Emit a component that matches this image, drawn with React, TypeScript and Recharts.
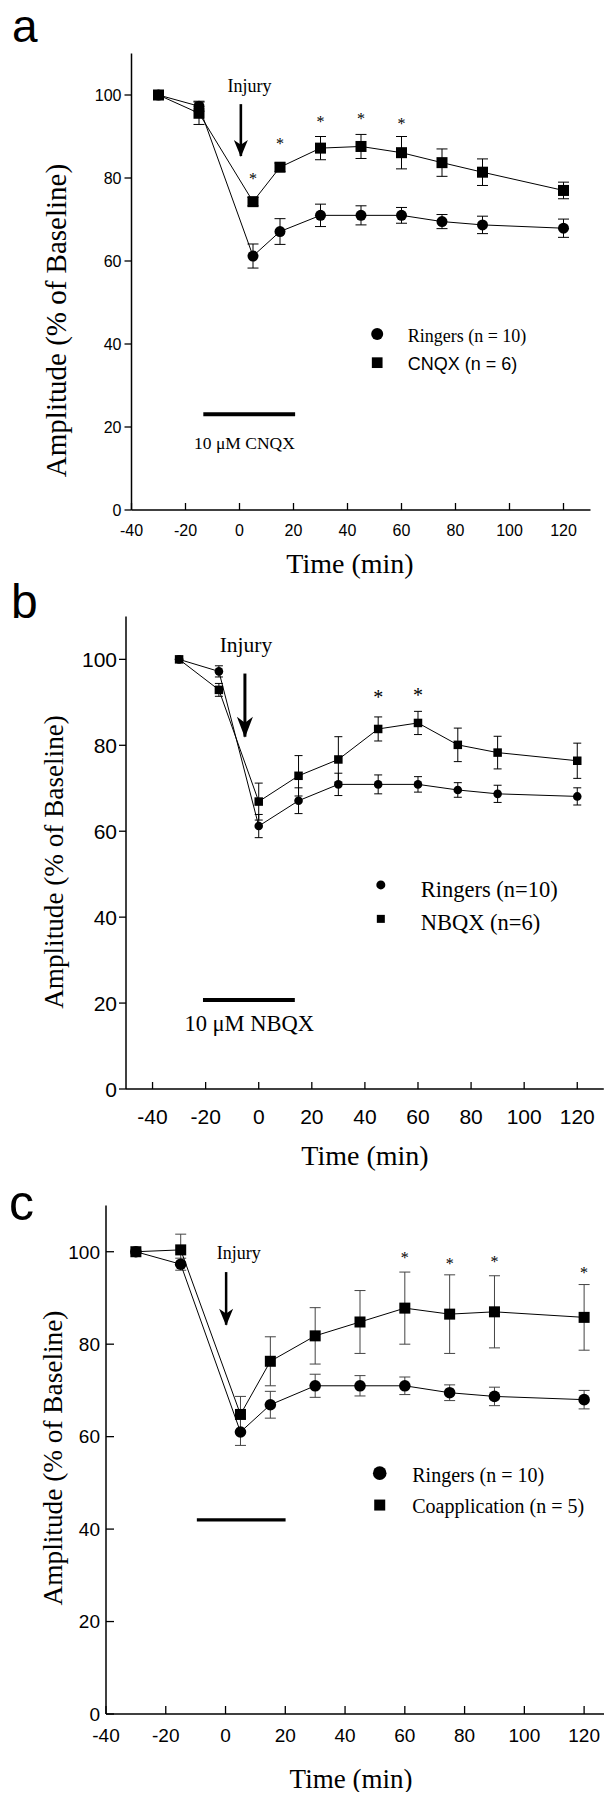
import React from 'react';
import { ComposedChart, Line, XAxis, YAxis, ErrorBar, ReferenceLine, ReferenceDot } from 'recharts';

const SERIF = "'Liberation Serif', 'Times New Roman', serif";
const SANS = "'Liberation Sans', Arial, Helvetica, sans-serif";

// ---------- Panel a ----------
const timeA = [-30, -15, 5, 15, 30, 45, 60, 75, 90, 120];
const ringersA = [100, 97.3, 61.2, 67.1, 71.0, 71.0, 71.0, 69.5, 68.7, 67.9];
const ringersErrA = [0.5, 1.2, 2.9, 3.1, 2.7, 2.3, 1.9, 1.7, 2.1, 2.2];
const cnqxA = [100, 95.6, 74.3, 82.6, 87.2, 87.6, 86.1, 83.7, 81.4, 77.0];
const cnqxErrA = [0.5, 2.7, 1.0, 1.0, 2.8, 2.9, 3.9, 3.3, 3.2, 2.0];
const starXA = [5, 15, 30, 45, 60];
const starYA = [80.3, 88.7, 94.2, 94.9, 93.6];

// ---------- Panel b ----------
const timeB = [-30, -15, 0, 15, 30, 45, 60, 75, 90, 120];
const ringersB = [100, 97.2, 61.2, 67.1, 70.9, 70.9, 70.9, 69.6, 68.7, 68.1];
const ringersErrB = [0, 1.3, 2.7, 3.0, 2.6, 2.2, 1.8, 1.7, 2.0, 2.0];
const nbqxB = [100, 92.9, 66.9, 72.9, 76.7, 83.8, 85.2, 80.1, 78.3, 76.4];
const nbqxErrB = [0, 1.5, 4.3, 4.7, 5.3, 2.8, 2.7, 3.9, 3.8, 4.1];
const starXB = [45, 60];
const starYB = [91.8, 92.3];

// ---------- Panel c ----------
const timeC = [-30, -15, 5, 15, 30, 45, 60, 75, 90, 120];
const ringersC = [100, 97.3, 61.0, 66.9, 71.0, 71.0, 71.0, 69.5, 68.7, 68.0];
const ringersErrC = [0, 1.3, 2.9, 2.9, 2.5, 2.2, 1.9, 1.7, 2.0, 2.0];
const coappC = [100, 100.4, 64.8, 76.3, 81.8, 84.8, 87.8, 86.5, 87.0, 85.8];
const coappErrC = [0, 3.4, 3.9, 5.3, 6.1, 6.8, 7.8, 8.5, 7.8, 7.1];
const starXC = [60, 75, 90, 120];
const starYC = [99.2, 97.9, 98.4, 96.0];

const yTicks = [0, 20, 40, 60, 80, 100];
const xTicks = [-40, -20, 0, 20, 40, 60, 80, 100, 120];

const toPts = (xs: number[], ys: number[], es: number[]) =>
  xs.map((x, i) => ({ x, y: ys[i], e: es[i] }));

type Marker = 'circle' | 'square';

interface SeriesCfg {
  data: { x: number; y: number; e: number }[];
  marker: Marker;
  size: number;
  capW: number;
  errColor: string;
}

interface LegendItem {
  marker: Marker;
  size: number;
  y: number;
  textY: number;
  label: string;
  font: string;
}

interface PanelCfg {
  top: number;
  width: number;
  height: number;
  margin: { top: number; right: number; bottom: number; left: number };
  xDomain: [number, number];
  tickFs: number;
  yTickOut: boolean;
  yTickLen: number;
  yLabelGap: number;
  xTickLen: number;
  xLabelDy: number;
  series: SeriesCfg[];
  injury: { x: number; y: number; fs: number };
  arrow: { x: number; top: number; tip: number; headLen: number; headW: number; shaft: number };
  bar: { x1: number; x2: number; y: number; thick: number };
  barLabel?: { text: string; x: number; y: number; fs: number };
  stars: { x: number; y: number }[];
  starFs: number;
  legendX: number;
  legendTextX: number;
  legendFs: number;
  legend: LegendItem[];
}

const drawMarker = (marker: Marker, cx: number, cy: number, size: number, key?: string) =>
  marker === 'circle' ? (
    <circle key={key} cx={cx} cy={cy} r={size} fill="#000" />
  ) : (
    <rect key={key} x={cx - size / 2} y={cy - size / 2} width={size} height={size} fill="#000" />
  );

function Panel({ cfg }: { cfg: PanelCfg }) {
  const xTick = (props: any) => {
    const { x, y, payload } = props;
    return (
      <g>
        <line x1={x} x2={x} y1={y} y2={y - cfg.xTickLen} stroke="#000" strokeWidth={1.3} />
        <text x={x} y={y + cfg.xLabelDy} textAnchor="middle" fontSize={cfg.tickFs} fontFamily={SANS} fill="#000">
          {payload.value}
        </text>
      </g>
    );
  };
  const yTick = (props: any) => {
    const { x, y, payload } = props;
    const x2 = cfg.yTickOut ? x - cfg.yTickLen : x + cfg.yTickLen;
    return (
      <g>
        <line x1={x} x2={x2} y1={y} y2={y} stroke="#000" strokeWidth={1.3} />
        <text
          x={x - cfg.yLabelGap}
          y={y + cfg.tickFs * 0.36}
          textAnchor="end"
          fontSize={cfg.tickFs}
          fontFamily={SANS}
          fill="#000"
        >
          {payload.value}
        </text>
      </g>
    );
  };

  const a = cfg.arrow;
  return (
    <div style={{ position: 'absolute', left: 0, top: cfg.top }}>
      <ComposedChart width={cfg.width} height={cfg.height} margin={cfg.margin}>
        <XAxis
          type="number"
          dataKey="x"
          domain={cfg.xDomain}
          ticks={xTicks}
          interval={0}
          allowDataOverflow
          tickLine={false}
          tickSize={0}
          tickMargin={0}
          height={30}
          axisLine={{ stroke: '#000', strokeWidth: 1.5 }}
          tick={xTick}
        />
        <YAxis
          type="number"
          domain={[0, 110]}
          ticks={yTicks}
          interval={0}
          allowDataOverflow
          tickLine={false}
          tickSize={0}
          tickMargin={0}
          width={60}
          axisLine={{ stroke: '#000', strokeWidth: 1.5 }}
          tick={yTick}
        />
        <ReferenceLine
          segment={[{ x: cfg.bar.x1, y: cfg.bar.y }, { x: cfg.bar.x2, y: cfg.bar.y }]}
          stroke="#000"
          strokeWidth={cfg.bar.thick}
        />
        <ReferenceLine
          segment={[{ x: a.x, y: a.top }, { x: a.x, y: a.tip }]}
          stroke="#000"
          strokeWidth={a.shaft}
        />
        <ReferenceDot
          x={a.x}
          y={a.tip}
          r={1}
          shape={(p: any) => (
            <polygon
              points={`${p.cx - a.headW / 2},${p.cy - a.headLen} ${p.cx},${p.cy - a.headLen * 0.7} ${p.cx + a.headW / 2},${p.cy - a.headLen} ${p.cx},${p.cy + 1}`}
              fill="#000"
            />
          )}
        />
        <ReferenceDot
          x={cfg.injury.x}
          y={cfg.injury.y}
          r={1}
          shape={(p: any) => (
            <text x={p.cx} y={p.cy} textAnchor="middle" fontSize={cfg.injury.fs} fontFamily={SERIF} fill="#000">
              Injury
            </text>
          )}
        />
        {cfg.barLabel && (
          <ReferenceDot
            x={cfg.barLabel.x}
            y={cfg.barLabel.y}
            r={1}
            shape={(p: any) => (
              <text x={p.cx} y={p.cy} textAnchor="middle" fontSize={cfg.barLabel!.fs} fontFamily={SERIF} fill="#000">
                {cfg.barLabel!.text}
              </text>
            )}
          />
        )}
        {cfg.stars.map((s, i) => (
          <ReferenceDot
            key={`star${i}`}
            x={s.x}
            y={s.y}
            r={1}
            shape={(p: any) => (
              <text
                x={p.cx}
                y={p.cy + cfg.starFs * 0.47}
                textAnchor="middle"
                fontSize={cfg.starFs}
                fontFamily={SERIF}
                fill="#000"
              >
                *
              </text>
            )}
          />
        ))}
        {cfg.legend.map((l, i) => (
          <ReferenceDot
            key={`lm${i}`}
            x={cfg.legendX}
            y={l.y}
            r={1}
            shape={(p: any) => drawMarker(l.marker, p.cx, p.cy, l.size)}
          />
        ))}
        {cfg.legend.map((l, i) => (
          <ReferenceDot
            key={`lt${i}`}
            x={cfg.legendTextX}
            y={l.textY}
            r={1}
            shape={(p: any) => (
              <text x={p.cx} y={p.cy} fontSize={cfg.legendFs} fontFamily={l.font} fill="#000">
                {l.label}
              </text>
            )}
          />
        ))}
        {cfg.series.map((s, si) => (
          <Line
            key={`s${si}`}
            data={s.data}
            dataKey="y"
            type="linear"
            stroke="#000"
            strokeWidth={1}
            isAnimationActive={false}
            activeDot={false}
            legendType="none"
            dot={(p: any) =>
              p.cx == null ? <g key={`d${si}-${p.index}`} /> : drawMarker(s.marker, p.cx, p.cy, s.size, `d${si}-${p.index}`)
            }
          >
            <ErrorBar dataKey="e" width={s.capW} stroke={s.errColor} strokeWidth={1} direction="y" isAnimationActive={false} />
          </Line>
        ))}
      </ComposedChart>
    </div>
  );
}

const panelA: PanelCfg = {
  top: 0,
  width: 612,
  height: 590,
  margin: { top: 53.5, right: 21.5, bottom: 50, left: 71.5 },
  xDomain: [-40, 130],
  tickFs: 16,
  yTickOut: true,
  yTickLen: 7,
  yLabelGap: 10,
  xTickLen: 7,
  xLabelDy: 26,
  series: [
    { data: toPts(timeA, ringersA, ringersErrA), marker: 'circle', size: 5.5, capW: 5.5, errColor: '#000' },
    { data: toPts(timeA, cnqxA, cnqxErrA), marker: 'square', size: 11, capW: 5.5, errColor: '#000' },
  ],
  injury: { x: 3.7, y: 100.8, fs: 18 },
  arrow: { x: 0.5, top: 97.8, tip: 85.3, headLen: 16, headW: 14, shaft: 2.6 },
  bar: { x1: -13.4, x2: 20.6, y: 23.05, thick: 4 },
  barLabel: { text: '10 \u03bcM CNQX', x: 1.85, y: 14.6, fs: 17.5 },
  stars: starXA.map((x, i) => ({ x, y: starYA[i] })),
  starFs: 16,
  legendX: 51,
  legendTextX: 62.3,
  legendFs: 18,
  legend: [
    { marker: 'circle', size: 6, y: 42.4, textY: 40.4, label: 'Ringers (n = 10)', font: SERIF },
    { marker: 'square', size: 10.7, y: 35.5, textY: 33.7, label: 'CNQX (n = 6)', font: SANS },
  ],
};

const panelB: PanelCfg = {
  top: 590,
  width: 612,
  height: 600,
  margin: { top: 26.4, right: 8.2, bottom: 71, left: 66 },
  xDomain: [-50, 130],
  tickFs: 21,
  yTickOut: true,
  yTickLen: 7,
  yLabelGap: 9,
  xTickLen: 7,
  xLabelDy: 35,
  series: [
    { data: toPts(timeB, ringersB, ringersErrB), marker: 'circle', size: 4.3, capW: 4, errColor: '#000' },
    { data: toPts(timeB, nbqxB, nbqxErrB), marker: 'square', size: 8.5, capW: 4, errColor: '#000' },
  ],
  injury: { x: -4.8, y: 101.8, fs: 21.5 },
  arrow: { x: -5.2, top: 96.7, tip: 82, headLen: 20, headW: 16, shaft: 3 },
  bar: { x1: -21, x2: 13.6, y: 20.7, thick: 4 },
  barLabel: { text: '10 \u03bcM NBQX', x: -3.6, y: 13.6, fs: 22.5 },
  stars: starXB.map((x, i) => ({ x, y: starYB[i] })),
  starFs: 20,
  legendX: 46,
  legendTextX: 61,
  legendFs: 22.5,
  legend: [
    { marker: 'circle', size: 4.5, y: 47.5, textY: 44.6, label: 'Ringers (n=10)', font: SERIF },
    { marker: 'square', size: 8, y: 39.6, textY: 37.1, label: 'NBQX (n=6)', font: SERIF },
  ],
};

const panelC: PanelCfg = {
  top: 1190,
  width: 620,
  height: 610,
  margin: { top: 15.5, right: 6, bottom: 56, left: 46 },
  xDomain: [-40, 130],
  tickFs: 19,
  yTickOut: false,
  yTickLen: 8,
  yLabelGap: 6,
  xTickLen: 8,
  xLabelDy: 28,
  series: [
    { data: toPts(timeC, ringersC, ringersErrC), marker: 'circle', size: 5.8, capW: 5.5, errColor: '#444' },
    { data: toPts(timeC, coappC, coappErrC), marker: 'square', size: 11, capW: 5.5, errColor: '#444' },
  ],
  injury: { x: 4.4, y: 98.4, fs: 18 },
  arrow: { x: 0.2, top: 95.6, tip: 84.2, headLen: 16, headW: 14, shaft: 2.5 },
  bar: { x1: -9.6, x2: 20.1, y: 42, thick: 3.4 },
  stars: starXC.map((x, i) => ({ x, y: starYC[i] })),
  starFs: 16,
  legendX: 51.6,
  legendTextX: 62.5,
  legendFs: 20,
  legend: [
    { marker: 'circle', size: 6.8, y: 52.1, textY: 50.2, label: 'Ringers (n = 10)', font: SERIF },
    { marker: 'square', size: 11, y: 45.2, textY: 43.4, label: 'Coapplication (n = 5)', font: SERIF },
  ],
};

const YTITLE = 'Amplitude (% of Baseline)';
const XTITLE = 'Time (min)';

export default function App() {
  return (
    <div
      style={{
        position: 'relative',
        width: 612,
        height: 1800,
        margin: -8,
        overflow: 'hidden',
        background: '#fff',
      }}
    >
      <Panel cfg={panelA} />
      <Panel cfg={panelB} />
      <Panel cfg={panelC} />
      <svg
        width={612}
        height={1800}
        style={{ position: 'absolute', left: 0, top: 0, pointerEvents: 'none' }}
      >
        <text x={12} y={42} fontSize={46} fontFamily={SANS} fill="#000">a</text>
        <text x={11} y={618} fontSize={48} fontFamily={SANS} fill="#000">b</text>
        <text x={9} y={1220} fontSize={50} fontFamily={SANS} fill="#000">c</text>

        <text x={350} y={573} textAnchor="middle" fontSize={28} fontFamily={SERIF} fill="#000">{XTITLE}</text>
        <text x={365} y={1165} textAnchor="middle" fontSize={28} fontFamily={SERIF} fill="#000">{XTITLE}</text>
        <text x={351} y={1788} textAnchor="middle" fontSize={27} fontFamily={SERIF} fill="#000">{XTITLE}</text>

        <text transform="translate(66,320.5) rotate(-90)" textAnchor="middle" fontSize={29} fontFamily={SERIF} fill="#000">{YTITLE}</text>
        <text transform="translate(63,862) rotate(-90)" textAnchor="middle" fontSize={27.2} fontFamily={SERIF} fill="#000">{YTITLE}</text>
        <text transform="translate(62,1458) rotate(-90)" textAnchor="middle" fontSize={27.3} fontFamily={SERIF} fill="#000">{YTITLE}</text>
      </svg>
    </div>
  );
}
